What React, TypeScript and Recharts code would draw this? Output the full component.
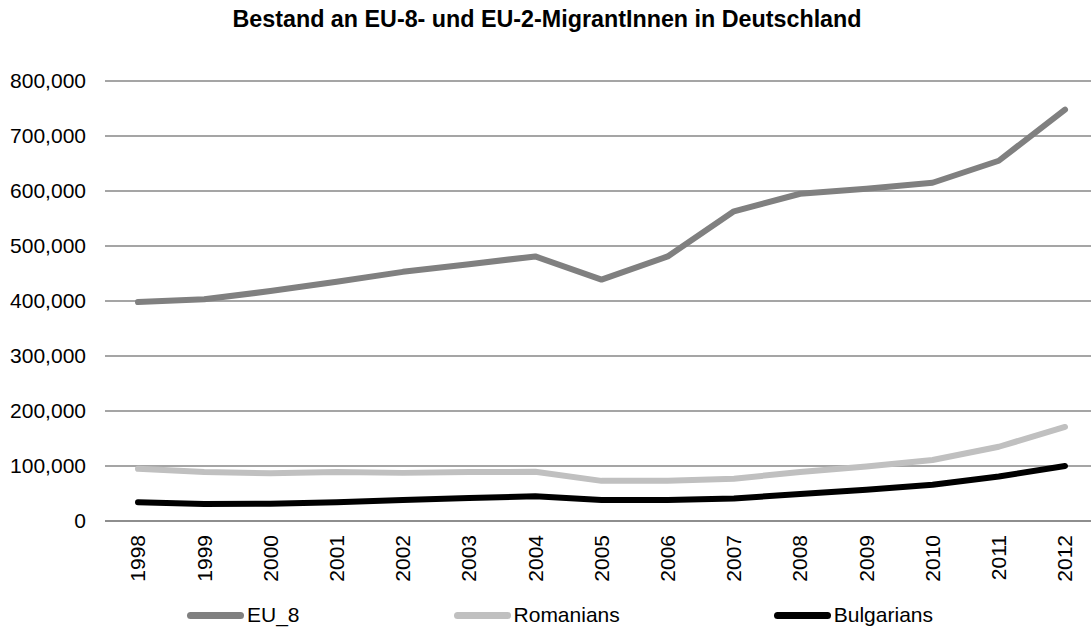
import React from 'react';
import { CartesianGrid, Legend, Line, LineChart, XAxis, YAxis } from 'recharts';

const years = ['1998', '1999', '2000', '2001', '2002', '2003', '2004', '2005', '2006', '2007', '2008', '2009', '2010', '2011', '2012'];
const eu8 = [398000, 403000, 418000, 435000, 453000, 467000, 481000, 439000, 481000, 563000, 595000, 604000, 615000, 655000, 748000];
const romanians = [95000, 89000, 87000, 89000, 87500, 89000, 89500, 73000, 73000, 77000, 89000, 99000, 111000, 135000, 171000];
const bulgarians = [34000, 31000, 31500, 34000, 38000, 42000, 45000, 38000, 38000, 41000, 49000, 57000, 66000, 81000, 100000];
const yTicks = [0, 100000, 200000, 300000, 400000, 500000, 600000, 700000, 800000];
const seriesNames = ['EU_8', 'Romanians', 'Bulgarians'];
const seriesColors = ['#808080', '#c0c0c0', '#000000'];

const data = years.map((year, i) => ({
  year,
  EU_8: eu8[i],
  Romanians: romanians[i],
  Bulgarians: bulgarians[i],
}));

const FONT = '"Liberation Sans", Arial, sans-serif';

function YearTick({ x, y, payload }: any) {
  return (
    <text
      x={x}
      y={y}
      dy="0.35em"
      transform={`rotate(-90, ${x}, ${y})`}
      textAnchor="end"
      fill="#000"
      fontSize={21}
      fontFamily={FONT}
    >
      {payload.value}
    </text>
  );
}

function LegendRow({ payload }: any) {
  const items = [...(payload || [])].sort(
    (a: any, b: any) => seriesNames.indexOf(a.value) - seriesNames.indexOf(b.value)
  );
  return (
    <div
      style={{
        height: 46,
        boxSizing: 'border-box',
        paddingTop: 10,
        paddingLeft: 187,
        display: 'flex',
        alignItems: 'center',
        gap: 154,
        fontFamily: FONT,
        fontSize: 21,
        color: '#000',
      }}
    >
      {items.map((item: any) => (
        <div key={item.value} style={{ display: 'flex', alignItems: 'center' }}>
          <span
            style={{
              display: 'inline-block',
              width: 57,
              height: 7,
              borderRadius: 4,
              background: item.color,
              marginRight: 3,
            }}
          />
          <span>{item.value}</span>
        </div>
      ))}
    </div>
  );
}

export default function App() {
  return (
    <div
      style={{
        position: 'fixed',
        left: 0,
        top: 0,
        width: 1091,
        height: 633,
        overflow: 'hidden',
        background: '#fff',
        fontFamily: FONT,
      }}
    >
      <div
        style={{
          position: 'absolute',
          top: 7,
          left: 0,
          width: 1094,
          textAlign: 'center',
          fontSize: 23.3,
          lineHeight: '24px',
          fontWeight: 'bold',
          color: '#000',
          zIndex: 2,
        }}
      >
        Bestand an EU-8- und EU-2-MigrantInnen in Deutschland
      </div>
      <LineChart width={1100} height={633} data={data} margin={{ top: 81, right: 2, bottom: 0, left: 0 }}>
        <CartesianGrid vertical={false} stroke="#878787" strokeWidth={1.3} />
        <XAxis
          dataKey="year"
          height={66}
          padding={{ left: 33, right: 33 }}
          axisLine={{ stroke: '#878787', strokeWidth: 1.5 }}
          tickLine={false}
          tickSize={0}
          tickMargin={14}
          interval={0}
          tick={<YearTick />}
        />
        <YAxis
          width={105}
          domain={[0, 800000]}
          ticks={yTicks}
          axisLine={false}
          tickLine={false}
          tickSize={0}
          tickMargin={19}
          tick={{ fill: '#000', fontSize: 21, fontFamily: FONT }}
          tickFormatter={(v: number) => v.toLocaleString('en-US')}
        />
        <Legend verticalAlign="bottom" content={<LegendRow />} />
        {seriesNames.map((name, i) => (
          <Line
            key={name}
            dataKey={name}
            stroke={seriesColors[i]}
            strokeWidth={6}
            strokeLinecap="round"
            strokeLinejoin="round"
            dot={false}
            activeDot={false}
            isAnimationActive={false}
          />
        ))}
      </LineChart>
    </div>
  );
}
